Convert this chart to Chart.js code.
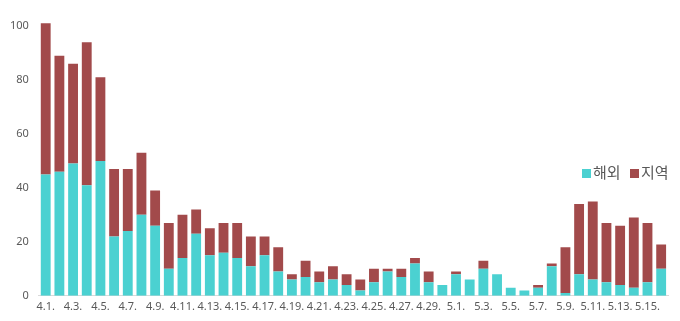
<!DOCTYPE html>
<html><head><meta charset="utf-8">
<script src="https://cdn.jsdelivr.net/npm/chart.js@4"></script>
<style>
html,body{margin:0;padding:0;background:#fff;}
#wrap{position:relative;width:680px;height:321px;}
#legend{position:absolute;left:582px;top:161px;font-family:"Noto Sans CJK KR","Noto Sans",sans-serif;font-size:15px;color:#595959;white-space:nowrap;}
#legend span.sw{display:inline-block;width:9px;height:9px;margin-right:2px;vertical-align:0px;}
</style></head>
<body><div id="wrap"><canvas id="c" width="680" height="321"></canvas>
<div id="legend"><span class="sw" style="background:#4bd1d1"></span>해외 <span class="sw" style="background:#a24a4b;margin-left:6px"></span>지역</div></div>
<script>
const categories = ["4.1.","4.2.","4.3.","4.4.","4.5.","4.6.","4.7.","4.8.","4.9.","4.10.","4.11.","4.12.","4.13.","4.14.","4.15.","4.16.","4.17.","4.18.","4.19.","4.20.","4.21.","4.22.","4.23.","4.24.","4.25.","4.26.","4.27.","4.28.","4.29.","4.30.","5.1.","5.2.","5.3.","5.4.","5.5.","5.6.","5.7.","5.8.","5.9.","5.10.","5.11.","5.12.","5.13.","5.14.","5.15.","5.16."];
const overseas = [45,46,49,41,50,22,24,30,26,10,14,23,15,16,14,11,15,9,6,7,5,6,4,2,5,9,7,12,5,4,8,6,10,8,3,2,3,11,1,8,6,5,4,3,5,10];
const local =    [56,43,37,53,31,25,23,23,13,17,16,9,10,11,13,11,7,9,2,6,4,5,4,4,5,1,3,2,4,0,1,0,3,0,0,0,1,1,17,26,29,22,22,26,22,9];
const yTicks = [0,20,40,60,80,100];

new Chart(document.getElementById('c'), {
  type: 'bar',
  data: {
    labels: categories,
    datasets: [
      {label:'해외', data: overseas, backgroundColor:'#4bd1d1', barPercentage:0.72, categoryPercentage:1},
      {label:'지역', data: local, backgroundColor:'#a24a4b', barPercentage:0.72, categoryPercentage:1}
    ]
  },
  options: {
    responsive:false, animation:false,
    layout:{padding:{left:0,right:12,top:0,bottom:4}},
    plugins:{legend:{display:false}, tooltip:{enabled:false}},
    scales:{
      x:{stacked:true, grid:{display:false, drawTicks:false}, border:{color:'#d9d9d9'},
         ticks:{autoSkip:false, maxRotation:0, color:'#595959', padding:4,
           font:{family:"'Noto Sans','Noto Sans CJK KR',sans-serif", size:11},
           callback:function(v,i){return i%2===0?categories[i]:'';}}},
      y:{stacked:true, min:0, max:103.5, grid:{display:false, drawTicks:false}, border:{display:false},
         afterBuildTicks:function(ax){ax.ticks = yTicks.map(v=>({value:v}));},
         ticks:{color:'#595959', padding:10, font:{family:"'Noto Sans','Noto Sans CJK KR',sans-serif", size:11}}}
    }
  }
});
</script></body></html>
